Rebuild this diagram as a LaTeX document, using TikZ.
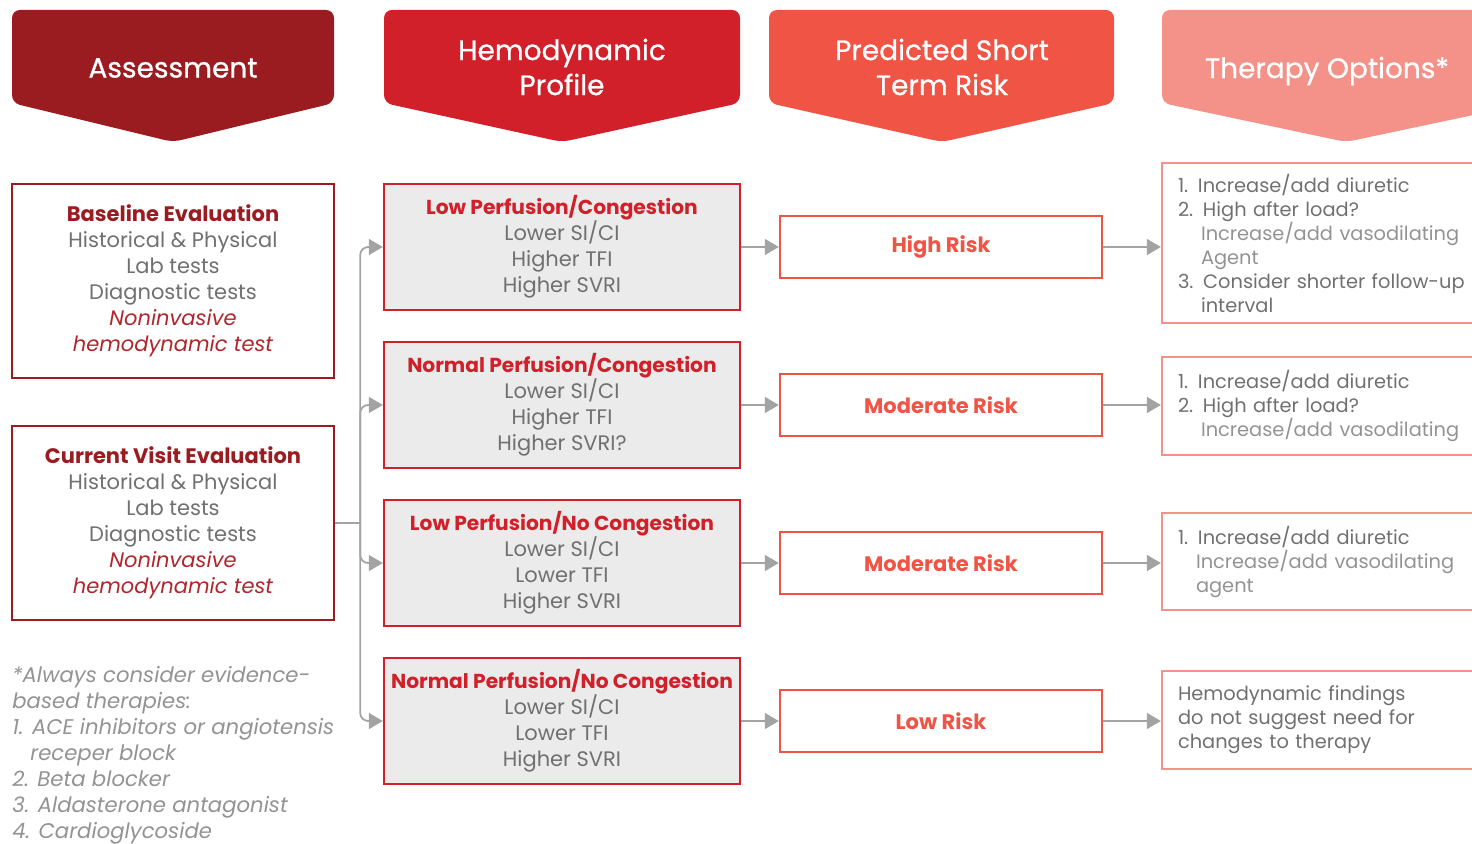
\documentclass[tikz,border=0pt]{standalone}
\usepackage{fontspec}
\setmainfont{Poppins}
\newfontfamily\headfont[FakeBold=0.7]{Poppins}
\usetikzlibrary{arrows.meta}
\definecolor{darkred}{HTML}{9B1C20}
\definecolor{itred}{HTML}{B0262C}
\definecolor{midred}{HTML}{D1202A}
\definecolor{coral}{HTML}{EF5445}
\definecolor{salmon}{HTML}{F4928A}
\definecolor{txtgray}{HTML}{707070}
\definecolor{lightgray}{HTML}{939393}
\definecolor{boxgray}{HTML}{EBEBEB}
\definecolor{linegray}{HTML}{A3A3A3}
\newcommand{\tind}{\hspace*{11.5pt}}
\newcommand{\proftitle}[1]{\textcolor{midred}{\bfseries\fontsize{10.1}{13}\selectfont #1}}

\begin{document}
\begin{tikzpicture}[x=0.5pt,y=-0.5pt,
		head/.style={text=white,font=\headfont\fontsize{14}{17.5}\selectfont,align=center,inner sep=0pt},
		evalbox/.style={draw=darkred,line width=1.2pt,minimum width=161pt,minimum height=97pt,align=center,text=txtgray,font=\fontsize{10.5}{13}\selectfont},
		profbox/.style={draw=midred,fill=boxgray,line width=1.2pt,minimum width=178pt,minimum height=63pt,align=center,text=txtgray,font=\fontsize{10.5}{13}\selectfont},
		riskbox/.style={draw=coral,line width=1.2pt,minimum width=161pt,minimum height=31pt,text=coral,font=\bfseries\fontsize{10.5}{13}\selectfont},
		therbox/.style={draw=salmon,line width=1.2pt,minimum width=184pt,text width=168pt,align=left,text=txtgray,font=\fontsize{9.7}{12}\selectfont},
		link/.style={draw=linegray,line width=0.9pt},
		arr/.style={link,-{Triangle[length=7pt,width=8pt]}}]
		\useasboundingbox (0,0) rectangle (1472,844);
		% column heads
		\fill [darkred,rounded corners=4pt] (12,10) -- (334,10) -- (334,103) -- (173,142) -- (12,103) -- cycle;
		\fill [midred,rounded corners=4pt] (384,10) -- (740,10) -- (740,103) -- (562,142) -- (384,103) -- cycle;
		\fill [coral,rounded corners=4pt] (769,10) -- (1114,10) -- (1114,103) -- (942,142) -- (769,103) -- cycle;
		\fill [salmon,rounded corners=4pt] (1162,10) -- (1530,10) -- (1530,103) -- (1346,142) -- (1162,103) -- cycle;
		\node [head] (hAss) at (173,68) {Assessment};
		\node [head] (hProf) at (562,67) {Hemodynamic\\Profile};
		\node [head] (hRisk) at (942,67) {Predicted Short\\Term Risk};
		\node [head] (hTher) at (1327,71) {Therapy Options*};
		% assessment
		\node [evalbox] (base) at (173,281) {\textcolor{darkred}{\bfseries Baseline Evaluation}\\Historical \& Physical\\Lab tests\\Diagnostic tests\\\textcolor{itred}{\itshape Noninvasive}\\\textcolor{itred}{\itshape hemodynamic test}};
		\node [evalbox] (cur) at (173,523) {\textcolor{darkred}{\bfseries Current Visit Evaluation}\\Historical \& Physical\\Lab tests\\Diagnostic tests\\\textcolor{itred}{\itshape Noninvasive}\\\textcolor{itred}{\itshape hemodynamic test}};
		\node [anchor=west,align=left,inner sep=0pt,text=lightgray,font=\itshape\fontsize{10.6}{13}\selectfont] (fn) at (12,755) {*Always consider evidence-\\based therapies:\\1. ACE inhibitors or angiotensis\\\hspace*{9pt}receper block\\2. Beta blocker\\3. Aldasterone antagonist\\4. Cardioglycoside};
		% profiles
		\node [profbox] (p1) at (562,247) {\proftitle{Low Perfusion/Congestion}\\Lower SI/CI\\Higher TFI\\Higher SVRI};
		\node [profbox] (p2) at (562,405) {\proftitle{Normal Perfusion/Congestion}\\Lower SI/CI\\Higher TFI\\Higher SVRI?};
		\node [profbox] (p3) at (562,563) {\proftitle{Low Perfusion/No Congestion}\\Lower SI/CI\\Lower TFI\\Higher SVRI};
		\node [profbox] (p4) at (562,721) {\proftitle{Normal Perfusion/No Congestion}\\Lower SI/CI\\Lower TFI\\Higher SVRI};
		% risks
		\node [riskbox] (r1) at (941,247) {High Risk};
		\node [riskbox] (r2) at (941,405) {Moderate Risk};
		\node [riskbox] (r3) at (941,563) {Moderate Risk};
		\node [riskbox] (r4) at (941,721) {Low Risk};
		% therapies
		\node [therbox,minimum height=80pt] (t1) at (1346,243) {1. Increase/add diuretic\\2. High after load?\\\tind\textcolor{lightgray}{Increase/add vasodilating}\\\tind\textcolor{lightgray}{Agent}\\3. Consider shorter follow-up\\\tind interval};
		\node [therbox,minimum height=49pt] (t2) at (1346,406) {1. Increase/add diuretic\\2. High after load?\\\tind\textcolor{lightgray}{Increase/add vasodilating}};
		\node [therbox,minimum height=48.5pt] (t3) at (1346,561.5) {1. Increase/add diuretic\\\hspace*{9pt}\textcolor{lightgray}{Increase/add vasodilating}\\\hspace*{9pt}\textcolor{lightgray}{agent}};
		\node [therbox,minimum height=49pt] (t4) at (1346,720) {Hemodynamic findings\\do not suggest need for\\changes to therapy};
		% connectors
		\draw [link] (cur.east) -- ++(25,0) coordinate (jn);
		\foreach \p in {p1,p2,p3,p4}
			\draw [arr,rounded corners=4pt] (jn) |- (\p.west);
		\foreach \p/\r in {p1/r1,p2/r2,p3/r3,p4/r4}
			\draw [arr] (\p.east) -- (\r.west);
		\foreach \r/\t in {r1/t1,r2/t2,r3/t3,r4/t4}
			\draw [arr] (\r.east) -- (\r.east -| \t.west);
	\end{tikzpicture}
\end{document}
